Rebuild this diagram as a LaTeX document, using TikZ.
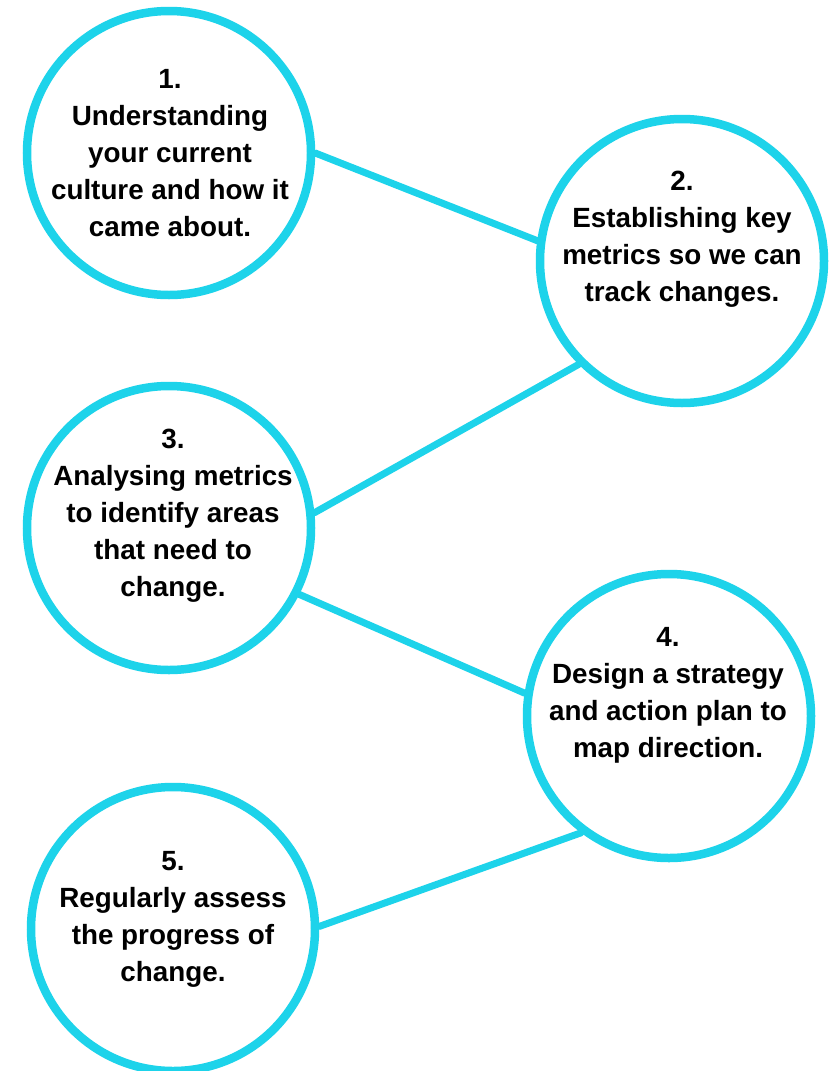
\documentclass[tikz,border=0pt]{standalone}
\usepackage{fontspec}
\setmainfont{Liberation Sans}
\definecolor{ringcyan}{RGB}{29,211,234}
\begin{document}
\begin{tikzpicture}[x=1pt,y=-1pt,
  ring/.style={circle,draw=ringcyan,line width=8.5pt,minimum size=284pt,inner sep=0pt,fill=white},
  txt/.style={font=\fontsize{27.8}{37}\selectfont\bfseries,align=center,inner sep=0pt},
  link/.style={draw=ringcyan,line width=7pt,line cap=round}]
\useasboundingbox[fill=white] (0,0) rectangle (830,1071);
\node[ring] (c1) at (169,153) {};
\node[ring] (c2) at (682,261) {};
\node[ring] (c3) at (169,528) {};
\node[ring] (c4) at (669,716) {};
\node[ring] (c5) at (173,929) {};
\draw[link] (c1.0) -- (c2.172);
\draw[link] (c2.225) -- (c3.6);
\draw[link] (c3.-27) -- (c4.171);
\draw[link] (c5.1) -- (c4.233);
\node[txt] (t1) at (170,153) {1.\\Understanding\\your current\\culture and how it\\came about.};
\node[txt] (t2) at (682,239) {2.\\Establishing key\\metrics so we can\\track changes.};
\node[txt] (t3) at (173,516) {3.\\Analysing metrics\\to identify areas\\that need to\\change.};
\node[txt] (t4) at (668,695) {4.\\Design a strategy\\and action plan to\\map direction.};
\node[txt] (t5) at (173,919) {5.\\Regularly assess\\the progress of\\change.};
\end{tikzpicture}
\end{document}
